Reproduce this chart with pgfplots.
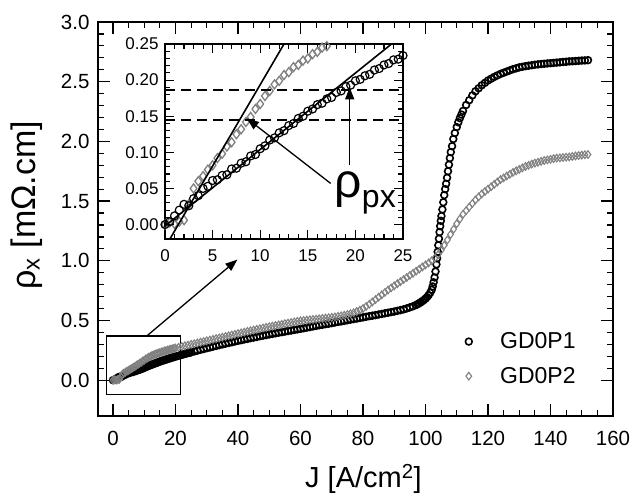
\documentclass[border=0pt]{standalone}
\usepackage{pgfplots}
\pgfplotsset{compat=1.18}
\usepackage{pgfplotstable}
\usepackage{fontspec}
\setmainfont{Liberation Sans}
\usetikzlibrary{arrows.meta}

\pgfplotstableread{
J rho
0 0.000
0.5 0.004
1 0.012
1.5 0.020
2 0.028
2.5 0.026
3 0.036
3.5 0.040
4 0.050
4.5 0.053
5 0.061
5.5 0.062
6 0.068
6.5 0.069
7 0.077
7.5 0.078
8 0.085
8.5 0.087
9 0.095
9.5 0.097
10 0.105
10.5 0.109
11 0.117
11.5 0.120
12 0.127
12.5 0.130
13 0.137
13.5 0.140
14 0.147
14.5 0.150
15 0.157
15.5 0.160
16 0.166
16.5 0.168
17 0.174
17.5 0.176
18 0.183
18.5 0.185
19 0.191
19.5 0.193
20 0.199
20.5 0.201
21 0.206
21.5 0.208
22 0.214
22.5 0.216
23 0.221
23.5 0.223
24 0.228
24.5 0.229
25 0.234
26 0.241
27 0.248
28 0.255
29 0.261
30 0.268
31 0.274
32 0.281
33 0.287
34 0.294
35 0.300
36 0.306
37 0.312
38 0.318
39 0.324
40 0.330
41 0.335
42 0.341
43 0.346
44 0.352
45 0.357
46 0.362
47 0.368
48 0.373
49 0.378
50 0.383
51 0.388
52 0.393
53 0.398
54 0.402
55 0.407
56 0.412
57 0.416
58 0.421
59 0.425
60 0.430
61 0.435
62 0.440
63 0.445
64 0.450
65 0.455
66 0.460
67 0.464
68 0.469
69 0.473
70 0.478
71 0.483
72 0.488
73 0.492
74 0.497
75 0.502
76 0.507
77 0.512
78 0.516
79 0.521
80 0.526
81 0.531
82 0.536
83 0.540
84 0.545
85 0.550
86 0.555
87 0.560
88 0.565
89 0.570
90 0.575
91 0.581
92 0.587
93 0.593
94 0.601
95 0.610
96 0.619
97 0.630
97.5 0.637
98 0.645
98.5 0.653
99 0.662
99.5 0.672
100 0.683
100.5 0.696
101 0.712
101.5 0.732
102 0.757
102.3 0.785
102.6 0.820
102.9 0.860
103.2 0.910
103.5 0.970
103.7 1.020
103.9 1.075
104.1 1.130
104.3 1.185
104.5 1.240
104.7 1.290
104.9 1.335
105.1 1.375
105.4 1.430
105.7 1.490
106.0 1.550
106.3 1.600
106.6 1.645
106.9 1.695
107.2 1.750
107.5 1.805
107.8 1.860
108.1 1.910
108.5 1.960
108.9 2.020
109.4 2.070
110 2.120
110.5 2.160
111 2.195
111.5 2.225
112 2.255
113 2.305
114 2.345
115 2.385
116 2.420
117 2.445
118 2.470
119 2.490
120 2.510
121 2.525
122 2.540
123 2.553
124 2.565
125 2.575
126 2.585
127 2.595
128 2.605
129 2.612
130 2.620
131 2.625
132 2.630
133 2.634
134 2.638
135 2.642
136 2.645
137 2.648
138 2.650
139 2.653
140 2.655
141 2.657
142 2.660
143 2.662
144 2.665
145 2.667
146 2.670
147 2.671
148 2.673
149 2.675
150 2.677
151 2.678
152 2.680
}\blackdata

\pgfplotstableread{
J rho
0 0.000
0.5 0.003
1 0.001
1.5 0.004
2 0.006
2.5 0.028
3 0.050
3.5 0.060
4 0.067
4.5 0.076
5 0.082
5.5 0.092
6 0.098
6.5 0.108
7 0.114
7.5 0.125
8 0.132
8.5 0.142
9 0.149
9.5 0.160
10 0.167
10.5 0.178
11 0.185
11.5 0.194
12 0.199
12.5 0.207
13 0.211
13.5 0.218
14 0.221
14.5 0.227
15 0.230
15.5 0.236
16 0.239
16.5 0.245
17 0.247
17.5 0.253
18 0.255
18.5 0.260
19 0.262
19.5 0.267
20 0.269
21 0.276
22 0.282
23 0.288
24 0.294
25 0.300
26 0.306
27 0.312
28 0.318
29 0.324
30 0.330
31 0.336
32 0.342
33 0.348
34 0.354
35 0.360
36 0.366
37 0.372
38 0.378
39 0.384
40 0.390
41 0.396
42 0.402
43 0.408
44 0.414
45 0.420
46 0.426
47 0.431
48 0.437
49 0.442
50 0.448
51 0.453
52 0.458
53 0.463
54 0.468
55 0.473
56 0.478
57 0.483
58 0.488
59 0.493
60 0.497
61 0.500
62 0.503
63 0.506
64 0.508
65 0.511
66 0.514
67 0.517
68 0.520
69 0.523
70 0.526
71 0.530
72 0.534
73 0.539
74 0.544
75 0.550
76 0.557
77 0.565
78 0.575
79 0.587
80 0.600
81 0.617
82 0.635
83 0.655
84 0.675
85 0.695
86 0.715
87 0.735
88 0.755
89 0.773
90 0.790
91 0.808
92 0.825
93 0.843
94 0.860
95 0.878
96 0.895
97 0.913
98 0.930
99 0.948
100 0.965
101 0.982
102 1.000
103 1.023
104 1.050
105 1.088
106 1.130
107 1.175
108 1.220
109 1.265
110 1.310
111 1.350
112 1.390
113 1.420
114 1.450
115 1.480
116 1.510
117 1.535
118 1.560
119 1.580
120 1.600
121 1.620
122 1.640
123 1.660
124 1.680
125 1.695
126 1.710
127 1.725
128 1.740
129 1.753
130 1.765
131 1.778
132 1.790
133 1.800
134 1.810
135 1.818
136 1.825
137 1.833
138 1.840
139 1.845
140 1.850
141 1.855
142 1.860
143 1.862
144 1.865
145 1.868
146 1.870
147 1.874
148 1.878
149 1.881
150 1.885
151 1.888
152 1.890
}\greydata

\begin{document}
\begin{tikzpicture}
\useasboundingbox (-98pt,-81pt) rectangle (532pt,416pt);
\begin{axis}[
  at={(0pt,0pt)}, anchor=south west,
  width=515pt, height=394pt, scale only axis,
  xmin=-4.8, xmax=160, ymin=-0.3, ymax=3.0,
  xtick={0,20,40,60,80,100,120,140,160},
  ytick={0,0.5,1,1.5,2,2.5,3},
  yticklabel={\pgfmathprintnumber[fixed,fixed zerofill,precision=1]{\tick}},
  minor x tick num=3, minor y tick num=4,
  tick align=inside,
  major tick length=12pt, minor tick length=6pt,
  axis line style={line width=1.5pt},
  every tick/.style={line width=1.2pt, black},
  /pgf/number format/assume math mode=true,
  tick label style={font=\fontsize{20.5}{24}\selectfont},
  xticklabel style={yshift=-12pt},
  yticklabel style={xshift=-5pt},
  xlabel={J [A/cm\textsuperscript{2}]},
  ylabel={ρ\textsubscript{x} [mΩ.cm]},
  xlabel style={at={(axis description cs:0.629,-0.16)}, anchor=east, inner sep=0pt, font=\fontsize{29}{34}\selectfont},
  ylabel style={at={(axis description cs:-0.138,0.535)}, anchor=center, font=\fontsize{34}{40}\selectfont},
  legend style={at={(axis description cs:0.713,0.145)}, anchor=west, draw=none, fill=none,
    font=\fontsize{23}{27}\selectfont, row sep=15pt, inner sep=0pt, nodes={inner sep=1pt},
    /tikz/every odd column/.append style={column sep=27pt}},
  legend cell align=left,
]
\addplot[only marks, mark=o, mark size=3.4pt, black, mark options={line width=1.6pt}] table {\blackdata};
\addlegendentry{GD0P1}
\addplot[only marks, mark=diamond, mark size=3.8pt, gray, mark options={line width=1.1pt}] table {\greydata};
\addlegendentry{GD0P2}
\draw[line width=1.2pt] (axis cs:-2,-0.12) rectangle (axis cs:21.5,0.37);
\draw[line width=1.3pt, -{Triangle[length=12pt,width=9pt]}] (axis cs:10.8,0.37) -- (axis cs:39.8,1.01);
\end{axis}

\begin{axis}[
  at={(67pt,177pt)}, anchor=south west,
  width=238pt, height=195pt, scale only axis,
  xmin=0, xmax=25, ymin=-0.02, ymax=0.25,
  xtick={0,5,10,15,20,25},
  ytick={0,0.05,0.1,0.15,0.2,0.25},
  yticklabel={\pgfmathprintnumber[fixed,fixed zerofill,precision=2]{\tick}},
  minor x tick num=4, minor y tick num=4,
  tick align=inside,
  major tick length=9pt, minor tick length=5pt,
  axis line style={line width=1.5pt},
  every tick/.style={line width=1.1pt, black},
  /pgf/number format/assume math mode=true,
  tick label style={font=\fontsize{17}{20}\selectfont},
  xticklabel style={yshift=-7pt},
  yticklabel style={xshift=-3pt},
  axis background/.style={fill=white},
  clip mode=individual,
]
\addplot[only marks, mark=diamond, mark size=4.5pt, gray, mark options={line width=1.3pt}] table {\greydata};
\addplot[only marks, mark=o, mark size=4pt, black, mark options={line width=1.2pt}] table {\blackdata};
\addplot[no marks, line width=1.6pt, black] coordinates {(0,-0.0316) (12.5,0.25)};
\addplot[no marks, line width=1.6pt, black] coordinates {(0,-0.002) (23.7,0.249)};
\addplot[no marks, line width=1.8pt, black, dash pattern=on 10pt off 6pt] coordinates {(0,0.186) (25,0.186)};
\addplot[no marks, line width=1.8pt, black, dash pattern=on 10pt off 6pt] coordinates {(0,0.145) (25,0.145)};
\draw[line width=1.3pt, -{Triangle[length=12pt,width=9pt]}] (axis cs:17.4,0.057) -- (axis cs:8.6,0.147);
\draw[line width=1.3pt, -{Triangle[length=12pt,width=9pt]}] (axis cs:19.4,0.082) -- (axis cs:19.4,0.19);
\node[anchor=base west, inner sep=0pt] at (axis cs:17.8,0.038) {\fontsize{48}{48}\selectfont ρ\raisebox{-10pt}{\fontsize{32}{32}\selectfont px}};
\end{axis}
\end{tikzpicture}
\end{document}
